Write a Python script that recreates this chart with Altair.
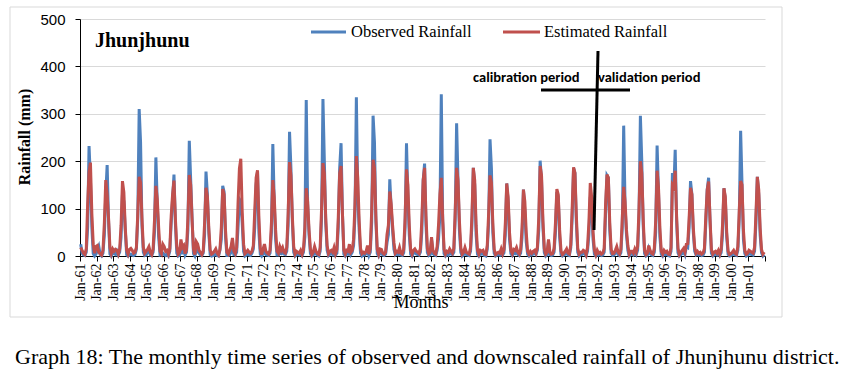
import altair as alt
import pandas as pd

year_labels = ["Jan-%02d" % (y % 100) for y in range(1961, 2002)]

# Observed monthly rainfall (mm), one row per year (Jan..Dec), 1961-2001
observed = [
    [25, 6, 2, 1, 8, 60, 232, 160, 60, 5, 0, 4],
    [12, 20, 3, 0, 6, 45, 130, 192, 75, 4, 0, 8],
    [5, 3, 10, 2, 8, 40, 130, 115, 55, 3, 0, 3],
    [4, 2, 1, 3, 14, 80, 310, 240, 65, 8, 1, 2],
    [8, 12, 2, 1, 8, 50, 208, 110, 40, 2, 3, 6],
    [3, 1, 4, 0, 10, 70, 120, 172, 70, 6, 0, 2],
    [15, 4, 18, 2, 8, 55, 243, 160, 80, 5, 0, 10],
    [20, 6, 2, 1, 6, 45, 178, 130, 50, 3, 0, 1],
    [2, 4, 1, 0, 12, 35, 148, 135, 40, 1, 1, 3],
    [8, 30, 3, 2, 8, 60, 120, 115, 70, 10, 0, 2],
    [4, 2, 1, 6, 15, 60, 150, 178, 50, 4, 0, 5],
    [10, 3, 2, 1, 6, 50, 236, 115, 35, 2, 2, 6],
    [5, 12, 4, 3, 10, 65, 262, 185, 75, 8, 0, 3],
    [3, 2, 6, 1, 8, 40, 329, 110, 45, 5, 0, 2],
    [12, 4, 2, 0, 10, 80, 331, 200, 70, 12, 1, 4],
    [6, 3, 10, 2, 6, 60, 185, 238, 90, 4, 0, 5],
    [4, 15, 3, 8, 22, 85, 335, 130, 55, 6, 0, 3],
    [2, 5, 12, 1, 8, 70, 296, 240, 75, 5, 0, 8],
    [6, 2, 1, 4, 28, 45, 162, 100, 55, 14, 2, 4],
    [3, 10, 2, 1, 7, 60, 238, 125, 45, 4, 0, 6],
    [8, 4, 3, 2, 8, 50, 160, 195, 65, 7, 1, 3],
    [35, 5, 2, 1, 12, 35, 86, 341, 75, 5, 0, 4],
    [2, 8, 4, 3, 8, 80, 280, 160, 55, 8, 0, 3],
    [10, 3, 2, 1, 10, 65, 186, 150, 45, 4, 0, 5],
    [4, 6, 1, 0, 14, 70, 246, 185, 50, 6, 0, 2],
    [3, 2, 8, 2, 7, 45, 153, 115, 35, 5, 1, 6],
    [5, 10, 3, 1, 6, 40, 140, 95, 30, 4, 0, 4],
    [2, 4, 6, 3, 12, 55, 201, 160, 60, 7, 0, 3],
    [30, 3, 1, 2, 8, 50, 135, 125, 40, 3, 0, 2],
    [4, 8, 2, 1, 18, 80, 186, 175, 70, 8, 0, 3],
    [3, 5, 4, 0, 10, 45, 125, 105, 35, 4, 0, 5],
    [2, 3, 1, 2, 8, 90, 170, 165, 55, 6, 1, 2],
    [6, 12, 3, 1, 7, 60, 275, 105, 45, 12, 0, 4],
    [4, 2, 8, 3, 12, 80, 296, 200, 65, 5, 0, 2],
    [15, 5, 2, 1, 8, 50, 233, 135, 40, 4, 0, 6],
    [3, 4, 1, 0, 10, 175, 140, 224, 75, 7, 0, 3],
    [5, 10, 3, 20, 18, 60, 158, 130, 50, 10, 2, 4],
    [2, 3, 1, 2, 8, 70, 140, 165, 75, 6, 0, 3],
    [4, 2, 6, 1, 7, 45, 143, 120, 40, 4, 0, 1],
    [3, 5, 2, 1, 12, 80, 264, 150, 35, 5, 0, 2],
    [6, 4, 3, 2, 10, 70, 167, 130, 45, 7, 0, 3],
]

# Estimated (downscaled) monthly rainfall (mm)
estimated = [
    [18, 12, 6, 3, 15, 110, 178, 197, 90, 25, 6, 20],
    [22, 8, 5, 2, 12, 70, 160, 130, 80, 18, 5, 15],
    [10, 14, 12, 4, 15, 65, 158, 135, 60, 12, 4, 14],
    [16, 12, 6, 8, 18, 90, 167, 155, 80, 18, 6, 10],
    [14, 20, 8, 3, 14, 75, 148, 120, 60, 10, 5, 25],
    [20, 10, 12, 4, 15, 85, 130, 159, 80, 20, 4, 8],
    [35, 18, 22, 5, 14, 80, 171, 150, 75, 15, 3, 30],
    [25, 12, 8, 3, 10, 70, 144, 125, 60, 12, 4, 6],
    [10, 15, 6, 2, 14, 60, 141, 130, 55, 8, 4, 12],
    [20, 38, 10, 5, 18, 110, 185, 205, 95, 25, 5, 8],
    [12, 8, 6, 10, 22, 95, 165, 181, 80, 15, 3, 15],
    [25, 10, 6, 4, 12, 70, 160, 125, 55, 10, 6, 20],
    [12, 18, 8, 6, 18, 90, 198, 170, 85, 20, 4, 10],
    [8, 6, 12, 4, 14, 60, 143, 115, 55, 14, 3, 8],
    [20, 10, 5, 3, 18, 100, 196, 175, 80, 22, 5, 10],
    [12, 8, 18, 5, 14, 80, 175, 190, 90, 12, 4, 12],
    [10, 25, 8, 12, 35, 110, 211, 165, 75, 16, 5, 8],
    [6, 10, 22, 4, 16, 95, 203, 185, 85, 14, 4, 15],
    [14, 6, 4, 8, 45, 65, 136, 110, 65, 28, 6, 10],
    [8, 18, 6, 4, 14, 80, 183, 150, 65, 12, 4, 12],
    [15, 10, 8, 5, 16, 75, 160, 186, 85, 16, 5, 8],
    [40, 12, 6, 4, 20, 65, 130, 165, 80, 14, 4, 10],
    [8, 15, 10, 6, 16, 95, 186, 160, 75, 18, 4, 8],
    [18, 8, 6, 4, 18, 85, 186, 160, 65, 12, 4, 12],
    [10, 12, 4, 3, 22, 90, 170, 155, 70, 14, 3, 6],
    [8, 6, 15, 5, 14, 70, 153, 125, 50, 12, 5, 14],
    [12, 18, 8, 4, 14, 60, 140, 115, 50, 10, 4, 10],
    [6, 10, 12, 6, 18, 80, 190, 170, 75, 16, 4, 8],
    [35, 8, 4, 5, 16, 70, 141, 130, 55, 10, 3, 6],
    [10, 15, 6, 4, 24, 100, 187, 175, 85, 16, 4, 8],
    [8, 12, 10, 3, 18, 70, 154, 125, 50, 12, 3, 12],
    [6, 8, 4, 6, 16, 110, 172, 165, 70, 14, 5, 6],
    [12, 20, 8, 4, 14, 80, 146, 115, 55, 22, 4, 10],
    [10, 6, 15, 8, 20, 100, 200, 175, 80, 12, 3, 6],
    [22, 12, 6, 4, 16, 75, 180, 145, 60, 10, 4, 12],
    [8, 10, 4, 3, 18, 150, 145, 180, 85, 16, 3, 8],
    [12, 16, 8, 25, 26, 80, 144, 130, 60, 18, 6, 10],
    [6, 8, 4, 6, 16, 85, 140, 157, 80, 14, 4, 8],
    [10, 6, 12, 4, 14, 65, 143, 125, 50, 10, 3, 5],
    [8, 12, 6, 4, 20, 95, 158, 150, 55, 12, 4, 6],
    [12, 10, 8, 6, 18, 90, 167, 140, 60, 14, 4, 8],
]

obs_flat = [v for row in observed for v in row]
est_flat = [v for row in estimated for v in row]
n = len(obs_flat)
df = pd.DataFrame({
    "t": [i + 0.5 for i in range(n)],
    "obs": obs_flat,
    "est": est_flat,
})

W, H = 685, 237
SERIF = "Liberation Serif, Times New Roman, serif"
SANS = "Liberation Sans, Arial, sans-serif"
BOLDSANS = "Carlito, Lato, sans-serif"
BLUE = "#4F81BD"
RED = "#C0504D"

labels_js = "[" + ",".join("'%s'" % s for s in year_labels) + "]"
label_expr = "datum.value < %d ? %s[floor(datum.value / 12)] : ''" % (n, labels_js)

x_scale = alt.Scale(domain=[0, n], nice=False, zero=False)
x_axis = alt.Axis(
    values=list(range(0, n + 1, 12)),
    labelExpr=label_expr,
    labelAngle=-90,
    labelFont=SERIF,
    labelFontSize=14,
    labelColor="black",
    labelPadding=2,
    labelOverlap=False,
    labelFlush=False,
    tickColor="black",
    tickSize=5,
    domainColor="black",
    grid=False,
    title=None,
)
y_scale = alt.Scale(domain=[0, 500], nice=False)
y_axis = alt.Axis(
    values=[0, 100, 200, 300, 400, 500],
    labelFont=SANS,
    labelFontSize=15,
    labelColor="black",
    labelPadding=10,
    tickColor="black",
    tickSize=5,
    domainColor="black",
    gridColor="#d9d9d9",
    title=None,
)

base = alt.Chart(df)
blue_line = base.mark_line(color=BLUE, strokeWidth=3).encode(
    x=alt.X("t:Q", scale=x_scale, axis=x_axis),
    y=alt.Y("obs:Q", scale=y_scale, axis=y_axis),
)
red_line = base.mark_line(color=RED, strokeWidth=3).encode(
    x=alt.X("t:Q", scale=x_scale, axis=x_axis),
    y=alt.Y("est:Q", scale=y_scale, axis=y_axis),
)

one = alt.Data(values=[{}])

def txt(s, x, y, font, size, weight="normal", align="left", baseline="middle", angle=0):
    kw = dict(text=s, font=font, fontSize=size, fontWeight=weight, align=align,
              baseline=baseline, color="black")
    if angle:
        kw["angle"] = angle
    return alt.Chart(one).mark_text(**kw).encode(x=alt.value(x), y=alt.value(y))

def rule(x1, y1, x2, y2, color, width):
    return alt.Chart(one).mark_rule(color=color, strokeWidth=width).encode(
        x=alt.value(x1), y=alt.value(y1), x2=alt.value(x2), y2=alt.value(y2)
    )

border = alt.Chart(one).mark_rect(fillOpacity=0, stroke="#d9d9d9", strokeWidth=1).encode(
    x=alt.value(-70), x2=alt.value(702), y=alt.value(-12), y2=alt.value(298)
)

layers = [
    border,
    blue_line,
    red_line,
    txt("Jhunjhunu", 15, 22, SERIF, 20, weight="bold"),
    rule(231, 13, 266, 13, BLUE, 3),
    txt("Observed Rainfall", 271, 13, SERIF, 16.5),
    rule(423, 13, 460, 13, RED, 3),
    txt("Estimated Rainfall", 464, 13, SERIF, 16.5),
    txt("calibration period", 393, 59, BOLDSANS, 14.5, weight="bold"),
    txt("validation period", 518, 59, BOLDSANS, 14.5, weight="bold"),
    rule(518, 32, 514, 211, "black", 3),
    rule(461, 71, 550, 71, "black", 3),
    txt("Rainfall  (mm)", -55, 118, SERIF, 16, weight="bold", align="center", angle=270),
    txt("Months", 341, 284, SERIF, 18, align="center"),
    txt("Graph 18: The monthly time series of observed and downscaled rainfall of Jhunjhunu district.",
        -65, 345, SERIF, 22, baseline="alphabetic"),
]

chart = alt.layer(*layers).properties(
    width=W, height=H,
    autosize=alt.AutoSizeParams(type="none"),
    padding={"left": 80, "top": 19, "right": 90, "bottom": 120},
    background="white",
).configure_view(stroke=None)

chart.save("out.html", embed_options={"renderer": "svg", "actions": False})
